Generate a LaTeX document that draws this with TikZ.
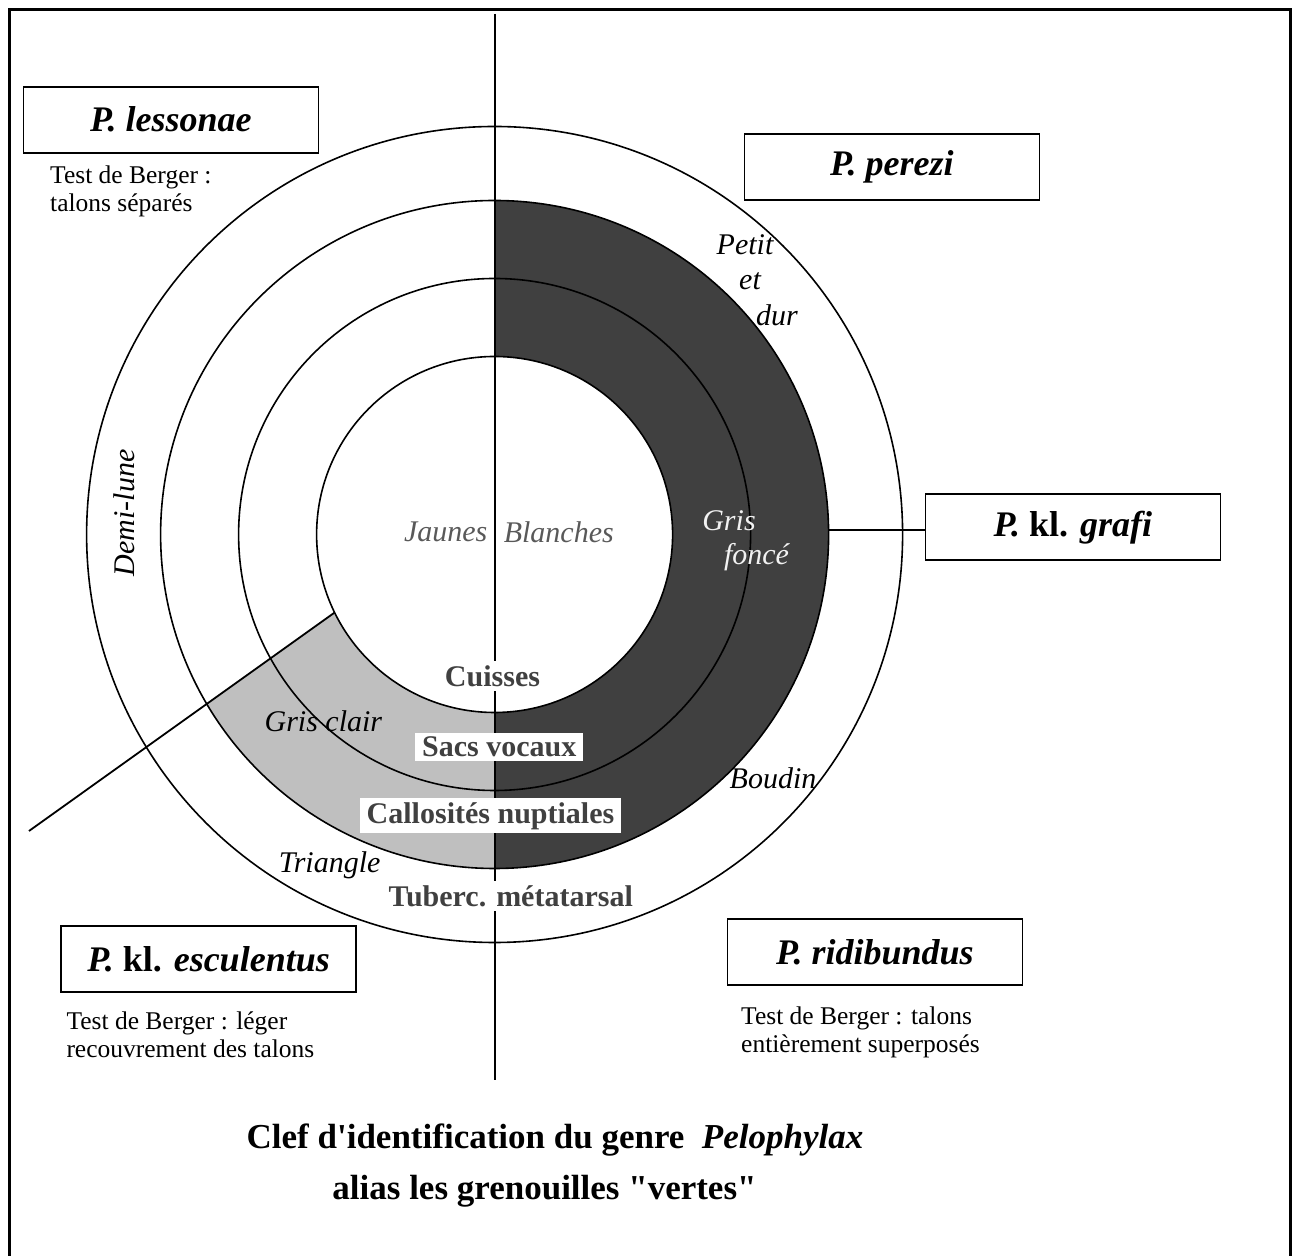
\documentclass[tikz,border=0pt]{standalone}
\usepackage{fontspec}
\setmainfont{Liberation Serif}

\begin{document}
\begin{tikzpicture}[x=1pt, y=1pt,
	species/.style={draw, line width=1.8pt, minimum width=295pt, minimum height=66pt, font=\fontsize{36}{42}\selectfont\bfseries\itshape},
	berger/.style={align=left, anchor=west, inner sep=0pt, font=\fontsize{25.5}{28.5}\selectfont},
	zone/.style={inner sep=0pt, font=\fontsize{30}{34}\selectfont\itshape},
	organ/.style={fill=white, text=black!75, inner xsep=7pt, inner ysep=4pt, font=\fontsize{30}{34}\selectfont\bfseries},
	heading/.style={font=\fontsize{35}{41}\selectfont\bfseries}]
\useasboundingbox (0,0) rectangle (1292,1255);
\draw[line width=3pt] (9,1245.3) rectangle (1290.5,-20);

\coordinate (C) at (494.6,720.5);
\coordinate (axisTop) at (494.6,1241);
\coordinate (axisBot) at (494.6,175);
\coordinate (slantEnd) at (29,424);
\coordinate (grafiE) at (828.5,725.3);

% bandes
\begin{scope}[shift={(C)}]
	\fill[black!75] (90:334) arc[start angle=90, end angle=-90, radius=334]
		-- (-90:178) arc[start angle=-90, end angle=90, radius=178] -- cycle;
	\fill[black!25] (206:178) -- (210.4:334) arc[start angle=210.4, end angle=270, radius=334]
		-- (270:178) arc[start angle=270, end angle=206, radius=178] -- cycle;
	\foreach \r in {178,256,334,408}
		\draw[line width=1.6pt] (0,0) circle (\r);
	\coordinate (slantStart) at (206:178);
\end{scope}

\draw[line width=1.8pt] (axisTop) -- (axisBot);
\draw[line width=1.8pt] (slantStart) -- (slantEnd);

% especes
\node[species] (lessonae) at (170.9,1135.3) {P. lessonae};
\node[species] (perezi) at (891.9,1088.2) {P. perezi};
\node[species] (grafi) at (1072.9,727.6) {P. \textup{kl.} grafi};
\node[species] (esculentus) at (208.6,295.8) {P. \textup{kl.} esculentus};
\node[species] (ridibundus) at (874.9,303) {P. ridibundus};
\draw[line width=1.8pt] (grafiE) -- (grafiE -| grafi.west);

\node[berger] (noteLes) at (50,1063.5) {Test de Berger :\\talons séparés};
\node[berger] (noteEsc) at (66.3,220.3) {Test de Berger : léger\\recouvrement des talons};
\node[berger] (noteRid) at (741,222.5) {Test de Berger : talons\\entièrement superposés};

\node[zone, rotate=90] (demilune) at (124,742) {Demi-lune};
\node[zone, text=black!65] (jaunes) at (445.7,722.7) {Jaunes};
\node[zone, text=black!65] (blanches) at (558.8,722.7) {Blanches};
\node[zone] (petit) at (745,1010) {Petit};
\node[zone] (et) at (750,974) {et};
\node[zone] (dur) at (777,940) {dur};
\node[zone, text=black!5] (gris) at (729,734) {Gris};
\node[zone, text=black!5] (fonce) at (756.5,698) {foncé};
\node[zone] (boudin) at (773,477) {Boudin};
\node[zone] (grisclair) at (323.4,534) {Gris clair};
\node[zone] (triangle) at (329.6,390) {Triangle};

\node[organ] (cuisses) at (492.5,579) {Cuisses};
\node[organ] (sacs) at (499.2,508.3) {Sacs vocaux};
\node[organ] (callosites) at (490.5,439.2) {Callosités nuptiales};
\node[organ] (tuberc) at (510.8,359) {Tuberc. métatarsal};

\node[heading] (title1) at (555,115) {Clef d\textquotesingle identification du genre \ \textit{Pelophylax}};
\node[heading] (title2) at (544.5,64) {alias les grenouilles \textquotedbl vertes\textquotedbl};
\end{tikzpicture}
\end{document}
